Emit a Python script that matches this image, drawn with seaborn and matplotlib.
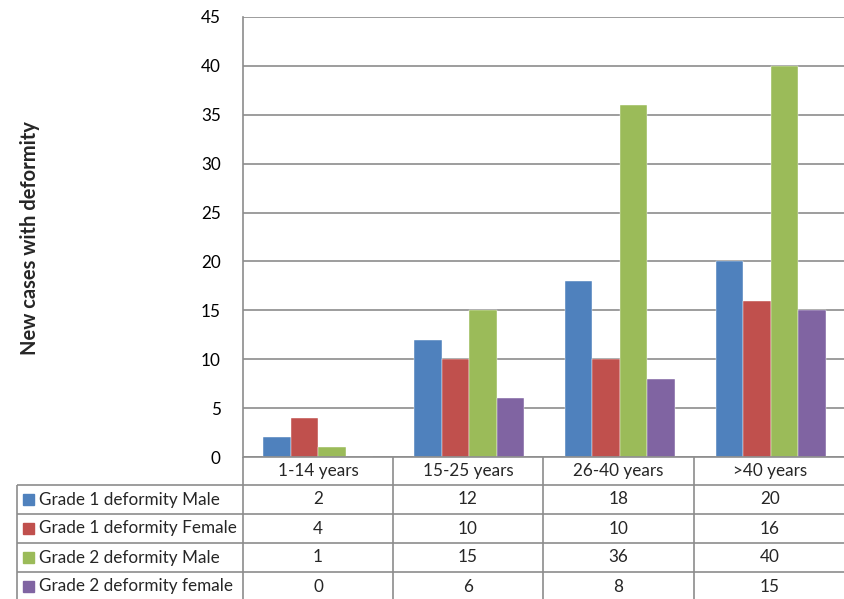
import numpy as np
import pandas as pd
import matplotlib
matplotlib.use("Agg")
import matplotlib.pyplot as plt
import seaborn as sns

# data
age_groups = ["1-14 years", "15-25 years", "26-40 years", ">40 years"]
series_names = ["Grade 1 deformity Male", "Grade 1 deformity Female",
                "Grade 2 deformity Male", "Grade 2 deformity female"]
g1_male = [2, 12, 18, 20]
g1_female = [4, 10, 10, 16]
g2_male = [1, 15, 36, 40]
g2_female = [0, 6, 8, 15]
colors = ["#4F81BD", "#C0504D", "#9BBB59", "#8064A2"]

values = [g1_male, g1_female, g2_male, g2_female]
df = pd.DataFrame({
    "age": np.tile(age_groups, 4),
    "series": np.repeat(series_names, 4),
    "cases": np.concatenate(values),
})

sns.set_style("white")
plt.rcParams["font.family"] = ["Lato", "DejaVu Sans"]
FS = 12.3
GRID = "#8c8c8c"

W, H = 845, 599
fig = plt.figure(figsize=(W / 100, H / 100), dpi=100)

# plot area in pixel layout
L, R, T, B = 243, 846, 17, 457
ax = fig.add_axes([L / W, 1 - B / H, (R - L) / W, (B - T) / H])
sns.barplot(data=df, x="age", y="cases", hue="series", order=age_groups,
            hue_order=series_names, palette=colors, width=0.73,
            edgecolor="white", linewidth=0.3, saturation=1, legend=False, ax=ax)
ax.set_xlim(-0.5, 3.5)
ax.set_ylim(0, 45)
ax.set_yticks(range(0, 46, 5))
ax.yaxis.grid(True, color=GRID, linewidth=1.2)
ax.set_axisbelow(True)
ax.set_xticks([])
ax.set_xlabel("")
ax.set_ylabel("")
for s in ["top", "right", "bottom"]:
    ax.spines[s].set_visible(False)
ax.spines["left"].set_color(GRID)
ax.spines["left"].set_linewidth(1.2)
ax.tick_params(axis="y", length=0, pad=16, labelsize=FS, labelcolor="black")

fig.text(30 / W, 1 - 238 / H, "New cases with deformity", rotation=90,
         ha="center", va="center", fontsize=14.5, fontweight="bold")

# data table below the plot
tx = fig.add_axes([0, 0, 1, 1])
tx.set_xlim(0, W)
tx.set_ylim(H, 0)
tx.axis("off")
col_edges = [L, 393, 543, 694, R]
row_edges = [B, 485, 514, 543, 572, 601]
lw = 1.2
tx.hlines(B, L, R, color=GRID, lw=lw)
for y in row_edges[1:]:
    tx.hlines(y, 17, R, color=GRID, lw=lw)
tx.vlines(17, row_edges[1], H + 5, color=GRID, lw=lw)
for x in col_edges[:-1]:
    tx.vlines(x, B, H + 5, color=GRID, lw=lw)

for j, lab in enumerate(age_groups):
    cx = (col_edges[j] + col_edges[j + 1]) / 2
    tx.text(cx, (row_edges[0] + row_edges[1]) / 2, lab, ha="center",
            va="center", fontsize=FS)

for i, name in enumerate(series_names):
    cy = (row_edges[i + 1] + row_edges[i + 2]) / 2
    tx.add_patch(plt.Rectangle((23, cy - 5.5), 11, 11, color=colors[i]))
    tx.text(39, cy, name, ha="left", va="center", fontsize=FS)
    for j, v in enumerate(values[i]):
        cx = (col_edges[j] + col_edges[j + 1]) / 2
        tx.text(cx, cy, str(v), ha="center", va="center", fontsize=FS)

fig.savefig("out.png", dpi=100)
